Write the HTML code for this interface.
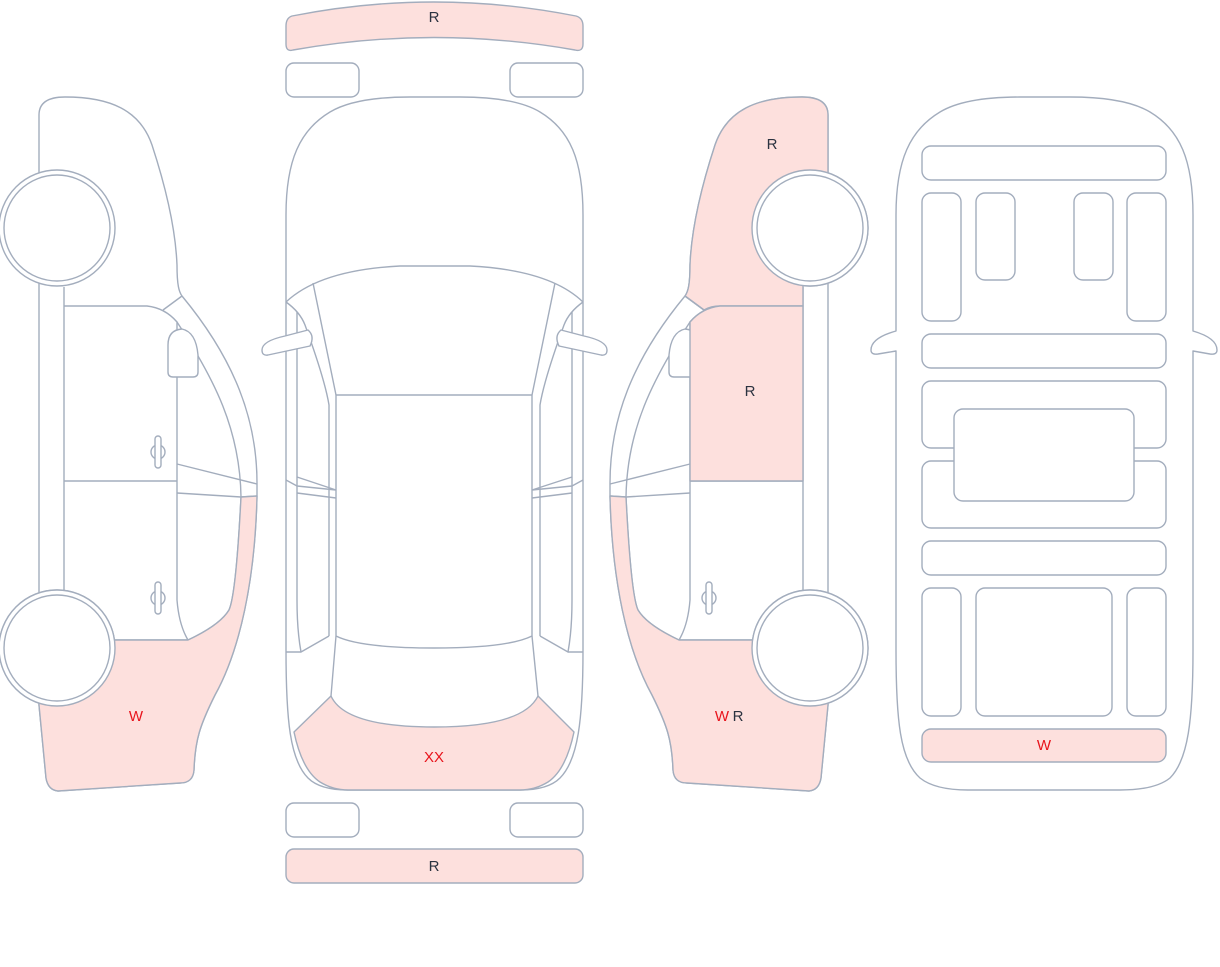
<!DOCTYPE html>
<html><head><meta charset="utf-8"><style>
html,body{margin:0;padding:0;background:#fff;}
svg{display:block;}
text{font-family:"Liberation Sans",sans-serif;font-size:15px;text-anchor:middle;}
.d{fill:#2b3340;}
.r{fill:#e8141c;}
</style></head><body>
<svg width="1220" height="967" viewBox="0 0 1220 967" xmlns="http://www.w3.org/2000/svg">
<defs>
<g id="side" fill="#fff" stroke="#a3adbd" stroke-width="1.4" stroke-linejoin="round">
  <path d="M39,115 Q39,97 65,97 C110,97 140,110 152,145 C170,200 176,240 177,265 C177,285 179,292 182,296 C235,360 257,420 257,483 L257,496 C255,580 240,650 215,695 C200,725 195,740 194,770 Q193,783 180,783 L58,791 Q48,790 46,778 L39,705 Z"/>
  <path fill="none" d="M64,287 L64,590"/>
  <path fill="none" d="M64,306 L147,306 Q165,308 177,322 L177,600 Q179,625 188,640 L110,640"/>
  <path fill="none" d="M163,310 L182,296"/>
  <path fill="none" d="M64,481 L177,481"/>
  <path fill="none" d="M177,322 C215,380 240,430 241,497"/>
  <path fill="none" d="M177,464 L257,484 M177,493 L241,497 L257,496"/>
  <path fill="none" d="M188,640 Q220,625 229,610 Q236,595 241,497"/>
  <path d="M168,345 Q168,330 182,329 Q196,332 198,355 L198,372 Q198,377 193,377 L173,377 Q168,377 168,372 Z"/>
  <circle cx="158" cy="452" r="7" fill="none"/>
  <rect x="155" y="436" width="6" height="32" rx="3"/>
  <circle cx="158" cy="598" r="7" fill="none"/>
  <rect x="155" y="582" width="6" height="32" rx="3"/>
  <circle cx="57" cy="228" r="58"/><circle cx="57" cy="228" r="53"/>
  <circle cx="57" cy="648" r="58"/><circle cx="57" cy="648" r="53"/>
</g>
</defs>

<use href="#side"/>
<g fill="#fde0dd" stroke="#a3adbd" stroke-width="1.4" stroke-linejoin="round">
  <path d="M100,640 L188,640 Q220,625 229,610 Q236,595 241,497 L257,496 C255,580 240,650 215,695 C200,725 195,740 194,770 Q193,783 180,783 L58,791 Q48,790 46,778 L39,705 L39,640 Z"/>
</g>
<g fill="#fff" stroke="#a3adbd" stroke-width="1.4">
  <circle cx="57" cy="648" r="58"/><circle cx="57" cy="648" r="53"/>
</g>
<text x="136" y="721" class="r">W</text>

<g transform="translate(867,0) scale(-1,1)">
<use href="#side"/>
<g fill="#fde0dd" stroke="#a3adbd" stroke-width="1.4" stroke-linejoin="round">
  <path d="M39,115 Q39,97 65,97 C110,97 140,110 152,145 C170,200 176,240 177,265 C177,285 179,292 182,296 L163,310 Q156,306 147,306 L64,306 L64,228 L39,228 Z"/>
  <path d="M64,306 L147,306 Q165,308 177,322 L177,481 L64,481 Z"/>
  <path d="M100,640 L188,640 Q220,625 229,610 Q236,595 241,497 L257,496 C255,580 240,650 215,695 C200,725 195,740 194,770 Q193,783 180,783 L58,791 Q48,790 46,778 L39,705 L39,640 Z"/>
  <path fill="none" d="M163,310 L182,296"/>
</g>
<g fill="#fff" stroke="#a3adbd" stroke-width="1.4">
  <circle cx="57" cy="228" r="58"/><circle cx="57" cy="228" r="53"/>
  <circle cx="57" cy="648" r="58"/><circle cx="57" cy="648" r="53"/>
</g>
</g>
<text x="772" y="149" class="d">R</text>
<text x="750" y="396" class="d">R</text>
<text x="722" y="721" class="r">W</text>
<text x="738" y="721" class="d">R</text>

<g fill="#fff" stroke="#a3adbd" stroke-width="1.4" stroke-linejoin="round">
  <path fill="#fde0dd" d="M292,16 Q434,-12 576,16 Q583,18 583,26 L583,44 Q583,52 575,50 Q434,25 293,50 Q286,52 286,44 L286,26 Q286,18 292,16 Z"/>
  <rect x="286" y="63" width="73" height="34" rx="8"/>
  <rect x="510" y="63" width="73" height="34" rx="8"/>
  <rect x="286" y="803" width="73" height="34" rx="8"/>
  <rect x="510" y="803" width="73" height="34" rx="8"/>
  <rect x="286" y="849" width="297" height="34" rx="8" fill="#fde0dd"/>
  <path d="M286,215 C286,160 300,130 330,112 C350,100 380,97 410,97 L460,97 C490,97 520,100 540,112 C570,130 583,160 583,215 L583,650 C583,720 578,760 560,778 Q548,790 520,790 L348,790 Q320,790 308,778 C290,760 286,720 286,650 Z"/>
  <path fill="#fde0dd" d="M294,732 L331,696 Q345,727 434,727 Q523,727 538,696 L574,732 Q566,770 548,782 Q535,790 520,790 L348,790 Q333,790 320,782 Q302,770 294,732 Z"/>
  <path fill="none" d="M286,302 Q320,270 400,266 L470,266 Q550,270 583,302"/>
  <path fill="none" d="M313,283 L336,395 M555,283 L532,395"/>
  <path fill="none" d="M336,395 L532,395 L532,636 Q508,648 434,648 Q360,648 336,636 Z"/>
  <path fill="none" d="M286,302 Q300,312 305,325 Q325,380 329,405 L329,636 M583,302 Q569,312 564,325 Q544,380 540,405 L540,636"/>
  <path fill="none" d="M297,312 L297,600 Q297,630 301,652 L329,636 M572,312 L572,600 Q572,630 568,652 L540,636"/>
  <path fill="none" d="M286,652 L301,652 M583,652 L568,652"/>
  <path fill="none" d="M286,480 L297,486 L336,490 M297,477 L336,490 M297,493 L336,498"/>
  <path fill="none" d="M583,480 L572,486 L532,490 M572,477 L532,490 M572,493 L532,498"/>
  <path fill="none" d="M336,636 L331,696 M532,636 L538,696"/>
  <path d="M262,350 Q262,341 285,336 L308,330 Q315,336 310,346 L268,355 Q262,356 262,350 Z"/>
  <path d="M607,350 Q607,341 584,336 L561,330 Q554,336 559,346 L601,355 Q607,356 607,350 Z"/>
</g>
<text x="434" y="22" class="d">R</text>
<text x="434" y="871" class="d">R</text>
<text x="434" y="762" class="r">XX</text>

<g fill="#fff" stroke="#a3adbd" stroke-width="1.4" stroke-linejoin="round">
  <path d="M896,215 C896,160 910,130 940,112 C960,100 990,97 1020,97 L1070,97 C1100,97 1130,100 1150,112 C1180,130 1193,160 1193,215 L1193,331 Q1217,338 1217,350 Q1217,355 1210,354 L1193,351 L1193,650 C1193,720 1188,760 1170,778 Q1155,790 1120,790 L968,790 Q935,790 920,778 C900,760 896,720 896,650 L896,351 L878,354 Q871,355 871,350 Q871,338 896,331 Z"/>
  <rect x="922" y="146" width="244" height="34" rx="9"/>
  <rect x="922" y="193" width="39" height="128" rx="9"/>
  <rect x="976" y="193" width="39" height="87" rx="9"/>
  <rect x="1074" y="193" width="39" height="87" rx="9"/>
  <rect x="1127" y="193" width="39" height="128" rx="9"/>
  <rect x="922" y="334" width="244" height="34" rx="9"/>
  <rect x="922" y="381" width="244" height="67" rx="9"/>
  <rect x="922" y="461" width="244" height="67" rx="9"/>
  <rect x="954" y="409" width="180" height="92" rx="9"/>
  <rect x="922" y="541" width="244" height="34" rx="9"/>
  <rect x="922" y="588" width="39" height="128" rx="9"/>
  <rect x="976" y="588" width="136" height="128" rx="9"/>
  <rect x="1127" y="588" width="39" height="128" rx="9"/>
  <rect x="922" y="729" width="244" height="33" rx="9" fill="#fde0dd"/>
</g>
<text x="1044" y="750" class="r">W</text>
</svg>
</body></html>
